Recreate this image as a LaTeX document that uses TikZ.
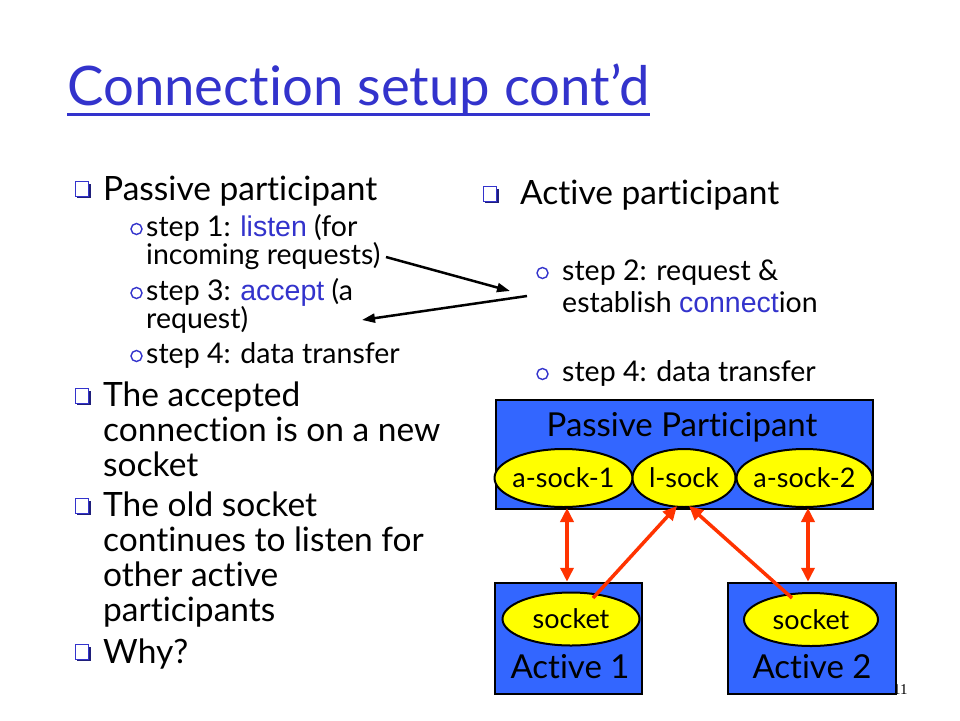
\documentclass[tikz,border=0pt]{standalone}
\usepackage{fontspec}
\setmainfont{Lato}[RawFeature=-liga]
\newfontfamily\arialf{Liberation Sans}
\newfontfamily\timesf{Liberation Serif}
\usetikzlibrary{arrows.meta,shapes.geometric,calc,shadows}
\definecolor{titleblue}{HTML}{3333CC}
\definecolor{boxblue}{HTML}{3366FF}
\definecolor{arrowred}{HTML}{FF3300}
\definecolor{sockyellow}{HTML}{FFFF00}
\begin{document}
\begin{tikzpicture}[x=1pt,y=-1pt,
  txt/.style={anchor=base west,inner sep=0pt,font=\fontsize{33.5}{33.5}\selectfont},
  subtxt/.style={anchor=base west,inner sep=0pt,font=\fontsize{28.5}{28.5}\selectfont},
  sqb/.style={rectangle,inner sep=0pt,minimum width=13.5pt,minimum height=14.5pt,draw=titleblue,line width=1.3pt,fill=white,
    general shadow={shadow xshift=2pt,shadow yshift=-2pt,fill=titleblue!60!black}},
  cb/.style={circle,inner sep=0pt,minimum size=11pt,draw=titleblue,line width=1.4pt},
  blk/.style={draw=black,line width=2.5pt,-{Triangle[length=13pt,width=9pt]}},
  boxst/.style={rectangle,draw=black,line width=2.5pt,fill=boxblue,inner sep=0pt},
  sock/.style={ellipse,draw=black,line width=2pt,fill=sockyellow,inner sep=-9pt,font=\fontsize{27}{27}\selectfont},
  boxlbl/.style={anchor=base,inner sep=0pt,font=\fontsize{33}{33}\selectfont},
  redarr/.style={draw=arrowred,line width=3.5pt}
]
\useasboundingbox[fill=white] (0,0) rectangle (960,720);
% title
\node[anchor=base west,inner sep=0pt,font=\fontsize{54.5}{54.5}\selectfont,text=titleblue] (title) at (67,105) {Connection setup cont’d};
\draw[titleblue,line width=3pt] ($(title.base west)+(0,9)$) -- ($(title.base east)+(0,9)$);
% left column
\node[sqb] (b1) at (82,189) {};
\node[txt] (tp) at (103,200) {Passive participant};
\node[cb] (c1) at (136.5,229) {};
\node[subtxt] (t1) at (146,236) {step 1: {\arialf\color{titleblue}listen} (for};
\node[subtxt] (t1b) at (146,264) {incoming requests)};
\node[cb] (c3) at (136.5,293) {};
\node[subtxt] (t3) at (146,300) {step 3: {\arialf\color{titleblue}accept} (a};
\node[subtxt] (t3b) at (146,328) {request)};
\node[cb] (c4) at (136.5,356) {};
\node[subtxt] (t4) at (146,363) {step 4: data transfer};
\node[sqb] (b2) at (82,396) {};
\node[txt] (ta1) at (103,406) {The accepted};
\node[txt] (ta2) at (103,441) {connection is on a new};
\node[txt] (ta3) at (103,476) {socket};
\node[sqb] (b3) at (82,506) {};
\node[txt] (to1) at (103,516) {The old socket};
\node[txt] (to2) at (103,551) {continues to listen for};
\node[txt] (to3) at (103,586) {other active};
\node[txt] (to4) at (103,621) {participants};
\node[sqb] (b4) at (82,652) {};
\node[txt] (tw) at (103,663) {Why?};
% right column
\node[sqb] (b5) at (490,194) {};
\node[txt] (tap) at (520,204) {Active participant};
\node[cb] (c2) at (542.5,273) {};
\node[subtxt] (t2) at (562,280) {step 2: request \&};
\node[subtxt] (t2b) at (562,312) {establish {\arialf\color{titleblue}connect}ion};
\node[cb] (c5) at (542.5,374) {};
\node[subtxt] (t5) at (562,381) {step 4: data transfer};
% black arrows
\coordinate (a1s) at (386,257);
\coordinate (a1e) at (510,291);
\coordinate (a2s) at (527,296);
\coordinate (a2e) at (362,320);
\draw[blk] (a1s) -- (a1e);
\draw[blk] (a2s) -- (a2e);
% page number (first digit hidden by box)
\node[anchor=base west,inner sep=0pt,font=\timesf\fontsize{15}{15}\selectfont] (pn) at (893,694) {11};
% passive participant box
\node[boxst,minimum width=377pt,minimum height=109pt] (pp) at (684.5,454.5) {};
\node[boxlbl] (ppl) at (682,436) {Passive Participant};
\node[sock,minimum width=138pt,minimum height=58pt] (as1) at (563.5,478) {a-sock-1};
\node[sock,minimum width=103pt,minimum height=58pt] (ls) at (684,478) {l-sock};
\node[sock,minimum width=136pt,minimum height=58pt] (as2) at (804.5,478) {a-sock-2};
% active boxes
\node[boxst,minimum width=147pt,minimum height=111pt] (a1) at (568.5,638.5) {};
\node[sock,minimum width=137pt,minimum height=53pt] (s1) at (571,619) {socket};
\node[boxlbl] (a1l) at (570,678) {Active 1};
\node[boxst,minimum width=168pt,minimum height=111pt] (a2) at (812,638.5) {};
\node[sock,minimum width=134pt,minimum height=53pt] (s2) at (811,619.5) {socket};
\node[boxlbl] (a2l) at (812,678) {Active 2};
% red arrows
\coordinate (v1t) at ($(as1.south)+(3.5,0)$);
\coordinate (v1b) at (v1t |- a1.north);
\coordinate (v2t) at ($(as2.south)+(3.5,0)$);
\coordinate (v2b) at (v2t |- a2.north);
\draw[redarr,{Triangle[length=14pt,width=13pt]}-{Triangle[length=14pt,width=13pt]}] (v1t) -- (v1b);
\draw[redarr,{Triangle[length=14pt,width=13pt]}-{Triangle[length=14pt,width=13pt]}] (v2t) -- (v2b);
\draw[redarr,-{Triangle[length=14pt,width=13pt]}] ($(s1.north)+(22,6.5)$) -- ($(ls.south)+(-7,-2)$);
\draw[redarr,-{Triangle[length=14pt,width=13pt]}] ($(s2.north)+(-19,6)$) -- ($(ls.south)+(5,-2)$);
\end{tikzpicture}
\end{document}
